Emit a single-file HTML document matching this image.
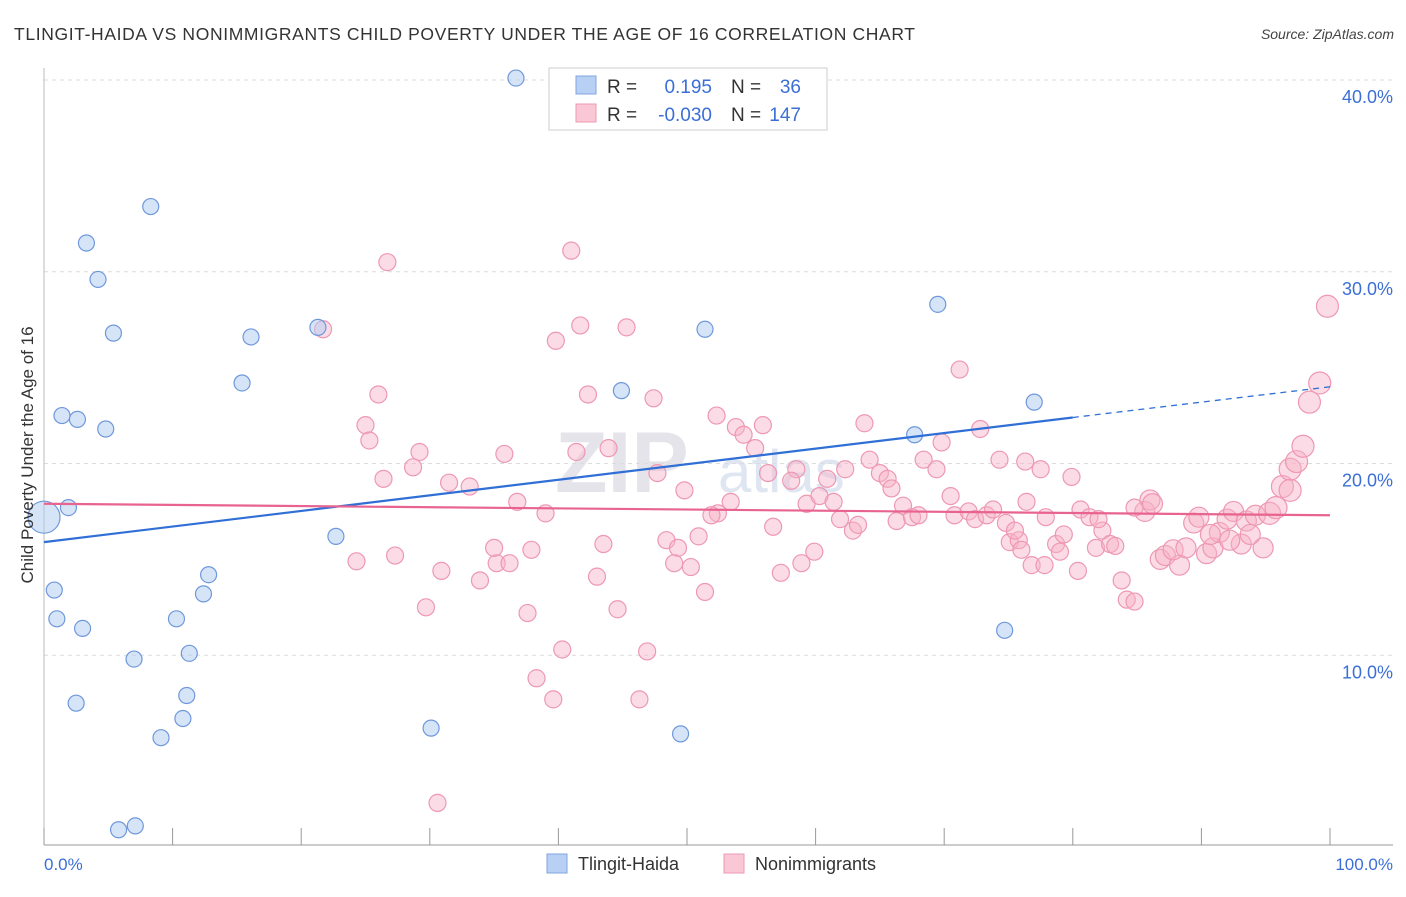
<!DOCTYPE html>
<html><head><meta charset="utf-8"><style>
body{margin:0;background:#fff;font-family:"Liberation Sans",sans-serif;}
svg text{font-family:"Liberation Sans",sans-serif;}
</style></head><body>
<svg id="chart" width="1406" height="892" xmlns="http://www.w3.org/2000/svg">
<text x="14" y="40" font-size="17.5" fill="#333" textLength="901" lengthAdjust="spacing">TLINGIT-HAIDA VS NONIMMIGRANTS CHILD POVERTY UNDER THE AGE OF 16 CORRELATION CHART</text>
<text x="1394" y="39" font-size="14" fill="#444" text-anchor="end" font-style="italic">Source: ZipAtlas.com</text>
<text x="555" y="492" font-size="86" fill="#e4e4ea" font-family="Liberation Serif" font-weight="bold">ZIP</text>
<text x="718" y="492" font-size="60" fill="#dfe6f2">atlas</text>
<g id="grid"></g>
<g id="axes"></g>
<g id="pink"></g>
<g id="blue"></g>
<g id="lines"></g>
<text transform="translate(33,455) rotate(-90)" font-size="17" fill="#333" text-anchor="middle">Child Poverty Under the Age of 16</text>
<text x="44" y="870" font-size="17" fill="#3b6fd6">0.0%</text>
<text x="1393" y="870" font-size="17" fill="#3b6fd6" text-anchor="end">100.0%</text>
<g>
<rect x="549" y="68" width="278" height="62" fill="#fff" stroke="#ccc"/>
<rect x="576" y="76" width="20" height="18" fill="#b8d0f4" stroke="#7fa4e0"/>
<rect x="576" y="104" width="20" height="18" fill="#f9c7d6" stroke="#ee98b3"/>
<text x="607" y="93" font-size="19" fill="#333">R = </text><text x="712" y="93" font-size="19" fill="#3b6fd6" text-anchor="end">0.195</text>
<text x="731" y="93" font-size="19" fill="#333">N = </text><text x="801" y="93" font-size="19" fill="#3b6fd6" text-anchor="end">36</text>
<text x="607" y="121" font-size="19" fill="#333">R = </text><text x="712" y="121" font-size="19" fill="#3b6fd6" text-anchor="end">-0.030</text>
<text x="731" y="121" font-size="19" fill="#333">N = </text><text x="801" y="121" font-size="19" fill="#3b6fd6" text-anchor="end">147</text>
</g>
<g>
<rect x="547" y="854" width="20" height="19" fill="#b8d0f4" stroke="#7fa4e0"/>
<text x="578" y="870" font-size="18" fill="#333">Tlingit-Haida</text>
<rect x="724" y="854" width="20" height="19" fill="#f9c7d6" stroke="#ee98b3"/>
<text x="755" y="870" font-size="18" fill="#333">Nonimmigrants</text>
</g>
</svg>
<script>
const yTicks=[10,20,30,40];
const yTickLabels=["10.0%","20.0%","30.0%","40.0%"];
const xTicks=[0,10,20,30,40,50,60,70,80,90,100];
const blueX=[36.7,8.3,3.3,4.2,5.4,16.1,21.3,51.4,69.5,15.4,1.4,2.6,4.8,44.9,67.7,77.0,1.9,0,22.7,0.8,1.0,3.0,10.3,12.8,12.4,7.0,11.3,2.5,11.1,10.8,9.1,30.1,49.5,74.7,5.8,7.1];
const blueY=[40.1,33.4,31.5,29.6,26.8,26.6,27.1,27.0,28.3,24.2,22.5,22.3,21.8,23.8,21.5,23.2,17.7,17.2,16.2,13.4,11.9,11.4,11.9,14.2,13.2,9.8,10.1,7.5,7.9,6.7,5.7,6.2,5.9,11.3,0.9,1.1];
const pinkX=[21.7,26.7,41.0,39.8,41.7,45.3,26.0,25.0,25.3,42.3,47.4,29.2,28.7,26.4,35.8,41.4,43.9,31.5,33.1,36.8,39.0,47.7,49.8,52.3,53.8,54.4,55.3,55.9,52.4,53.4,51.9,50.9,48.4,49.3,49.0,50.3,51.4,24.3,27.3,30.9,33.9,35.2,36.2,37.9,35.0,43.5,43.0,44.6,29.7,37.6,40.3,38.3,39.6,46.9,46.3,30.6,58.5,56.3,58.1,56.7,57.3,58.9,59.9,59.3,60.3,60.9,61.4,61.9,62.9,63.3,62.3,63.8,64.2,65.0,65.6,65.9,66.8,66.3,67.5,68.0,68.4,69.4,69.8,70.5,70.8,71.9,72.4,72.8,73.3,73.8,71.2,74.3,74.8,75.1,75.8,76.4,76.3,77.5,77.9,78.7,79.3,79.0,79.9,80.6,81.3,81.8,82.3,82.9,83.3,80.4,83.8,84.2,84.8,85.6,86.0,86.2,86.8,87.2,88.3,87.8,88.8,89.4,89.8,90.4,90.9,91.4,92.0,92.5,93.1,93.5,94.2,94.8,95.3,95.8,96.3,96.9,97.4,97.9,98.4,99.2,99.8,76.8,77.8,76.0,82.0,84.8,75.5,92.2,90.7,93.8,96.9];
const pinkY=[27.0,30.5,31.1,26.4,27.2,27.1,23.6,22.0,21.2,23.6,23.4,20.6,19.8,19.2,20.5,20.6,20.8,19.0,18.8,18.0,17.4,19.5,18.6,22.5,21.9,21.5,20.8,22.0,17.4,18.0,17.3,16.2,16.0,15.6,14.8,14.6,13.3,14.9,15.2,14.4,13.9,14.8,14.8,15.5,15.6,15.8,14.1,12.4,12.5,12.2,10.3,8.8,7.7,10.2,7.7,2.3,19.7,19.5,19.1,16.7,14.3,14.8,15.4,17.9,18.3,19.2,18.0,17.1,16.5,16.8,19.7,22.1,20.2,19.5,19.2,18.7,17.8,17.0,17.2,17.3,20.2,19.7,21.1,18.3,17.3,17.5,17.1,21.8,17.3,17.6,24.9,20.2,16.9,15.9,16.0,18.0,20.1,19.7,17.2,15.8,16.3,15.4,19.3,17.6,17.2,15.6,16.5,15.8,15.7,14.4,13.9,12.9,12.8,17.5,18.1,17.9,15.0,15.2,14.7,15.5,15.6,16.9,17.2,15.3,15.6,16.4,17.1,17.5,15.8,17.0,17.3,15.6,17.4,17.7,18.8,19.7,20.1,20.9,23.2,24.2,28.2,14.7,14.7,15.5,17.1,17.7,16.5,16.0,16.3,16.3,18.6];
const blueTrend=[15.9,22.4,24.0]; // at x=0, 80, 100
const pinkTrend=[17.9,17.3];      // at x=0, 100
const X0=44,X1=1330,YB=847,YT=80;
const sx=v=>X0+(X1-X0)*v/100;
const sy=v=>YB-(YB-YT)*v/40;
const NS="http://www.w3.org/2000/svg";
function mk(tag,attrs,parent){const e=document.createElementNS(NS,tag);for(const k in attrs)e.setAttribute(k,attrs[k]);parent.appendChild(e);return e;}
const grid=document.getElementById('grid'),axes=document.getElementById('axes');
yTicks.forEach((t,i)=>{
 const l=mk('line',{x1:X0,x2:1393,y1:sy(t),y2:sy(t),stroke:'#dcdcdc','stroke-dasharray':'4,4'},grid);
 
 
 const tx=mk('text',{x:1393,y:sy(t)+23,'font-size':18,fill:'#3b6fd6','text-anchor':'end'},grid);
 tx.textContent=yTickLabels[i];
 
 
});
const ax=mk('line',{x1:X0,x2:1393,y1:845,y2:845,stroke:'#999'},axes);


const ay=mk('line',{x1:X0,x2:X0,y1:68,y2:845,stroke:'#bbb'},axes);


xTicks.forEach(t=>{
 const tk=mk('line',{x1:sx(t),x2:sx(t),y1:828,y2:845,stroke:'#999'},axes);
 
 
});
const pg=document.getElementById('pink');
pinkX.forEach((x,i)=>{
 const r=x>95?11:(x>85?10:8.5);
 const c=mk('circle',{cx:sx(x),cy:sy(pinkY[i]),r:r,fill:'rgba(246,178,200,0.45)',stroke:'#ee98b3','stroke-width':1.2},pg);
 
 
});
const bg=document.getElementById('blue');
blueX.forEach((x,i)=>{
 const r=x===0?16:8;
 const c=mk('circle',{cx:sx(x),cy:sy(blueY[i]),r:r,fill:'rgba(180,205,242,0.55)',stroke:'#6f98dc','stroke-width':1.2},bg);
 
 
});
const lg=document.getElementById('lines');
const b1=mk('line',{x1:sx(0),y1:sy(blueTrend[0]),x2:sx(80),y2:sy(blueTrend[1]),stroke:'#2f6fd6','stroke-width':2.2},lg);


const b2=mk('line',{x1:sx(80),y1:sy(blueTrend[1]),x2:sx(100),y2:sy(blueTrend[2]),stroke:'#2f6fd6','stroke-width':1.3,'stroke-dasharray':'6,5'},lg);


const p1=mk('line',{x1:sx(0),y1:sy(pinkTrend[0]),x2:sx(100),y2:sy(pinkTrend[1]),stroke:'#e8638f','stroke-width':2.2},lg);


</script>
</body></html>
